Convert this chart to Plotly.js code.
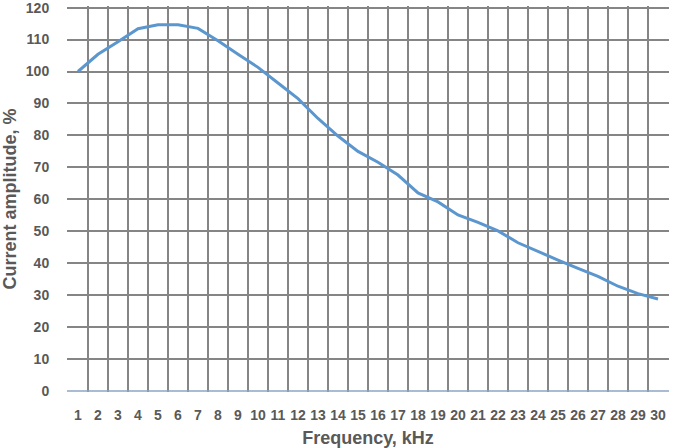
<!DOCTYPE html>
<html>
<head>
<meta charset="utf-8">
<script src="https://cdn.plot.ly/plotly-3.0.1.min.js"></script>
<style>html,body{margin:0;padding:0;background:#fff;}#chart{width:676px;height:448px;}</style>
</head>
<body>
<div id="chart"></div>
<script>
var frequency = [1,2,3,4,5,6,7,8,9,10,11,12,13,14,15,16,17,18,19,20,21,22,23,24,25,26,27,28,29,30];
var amplitude = [100,105.4,109.3,113.4,114.6,114.6,113.5,109.6,105.4,101.3,96.4,91.5,85.3,79.8,75.0,71.6,67.6,62.0,59.2,55.1,52.8,50.1,46.4,43.6,41.0,38.4,35.9,32.8,30.5,28.8];
var yTicks = [0,10,20,30,40,50,60,70,80,90,100,110,120];

var fontFam = '"Liberation Sans", Arial, sans-serif';
var txtColor = '#595959';
var gridCol = '#858585';

var trace = {
  x: frequency,
  y: amplitude,
  type: 'scatter',
  mode: 'lines',
  line: {color: '#5B97CE', width: 3},
  hoverinfo: 'skip'
};

var layout = {
  width: 676, height: 448,
  margin: {l: 67, r: 7, t: 6, b: 56},
  paper_bgcolor: '#ffffff',
  plot_bgcolor: '#ffffff',
  showlegend: false,
  xaxis: {
    range: [0.45, 30.55],
    tickvals: frequency,
    ticktext: frequency.map(String),
    showgrid: false,
    zeroline: false,
    showline: false,
    ticks: 'outside', ticklen: 10, tickcolor: 'rgba(0,0,0,0)',
    tickfont: {family: fontFam, size: 14, color: txtColor, weight: 'bold'},
    minor: {tick0: 0.5, dtick: 1, showgrid: true, gridcolor: gridCol, gridwidth: 2, ticks: ''},
    title: {text: 'Frequency, kHz', font: {family: fontFam, size: 18, color: txtColor, weight: 'bold'}, standoff: 10},
    fixedrange: true
  },
  yaxis: {
    range: [-0.3, 120.5],
    tickvals: yTicks,
    showgrid: true,
    gridcolor: gridCol,
    gridwidth: 2,
    zeroline: false,
    showline: false,
    ticklabeloverflow: 'allow',
    ticks: 'outside', ticklen: 14, tickcolor: 'rgba(0,0,0,0)',
    tickfont: {family: fontFam, size: 14, color: txtColor, weight: 'bold'},
    title: {text: 'Current amplitude, %', font: {family: fontFam, size: 18, color: txtColor, weight: 'bold'}, standoff: 4},
    fixedrange: true
  },
  shapes: [{
    type: 'line', xref: 'paper', yref: 'y', x0: 0, x1: 1, y0: 0, y1: 0,
    line: {color: '#8EA6C4', width: 1.5}, layer: 'above'
  }]
};

Plotly.newPlot('chart', [trace], layout, {displayModeBar: false, staticPlot: true});
</script>
</body>
</html>
